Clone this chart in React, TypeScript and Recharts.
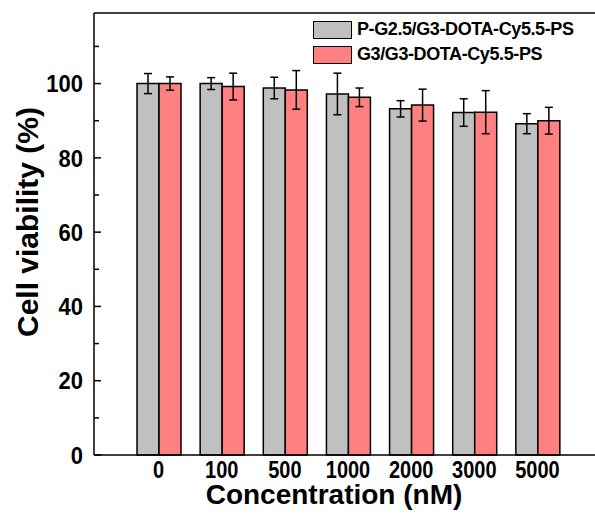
import React from 'react'
import { Bar, BarChart, ErrorBar, Label, Legend, ReferenceLine, XAxis, YAxis } from 'recharts'

const concentrations = ['0', '100', '500', '1000', '2000', '3000', '5000']
const pgValues = [100, 100, 98.8, 97.2, 93.2, 92.2, 89.2]
const pgErrors = [2.7, 1.6, 2.9, 5.6, 2.2, 3.7, 2.7]
const g3Values = [100, 99.2, 98.3, 96.3, 94.2, 92.3, 90]
const g3Errors = [1.8, 3.6, 5.2, 2.5, 4.3, 5.8, 3.6]
const yTicks = [0, 10, 20, 30, 40, 50, 60, 70, 80, 90, 100, 110]

const seriesNames = ['P-G2.5/G3-DOTA-Cy5.5-PS', 'G3/G3-DOTA-Cy5.5-PS']
const seriesColors = ['#c0c0c0', '#ff8080']

const data = concentrations.map((c, i) => ({
  conc: c,
  pg: pgValues[i],
  pgErr: pgErrors[i],
  g3: g3Values[i],
  g3Err: g3Errors[i],
}))

const font = '"Liberation Sans", Arial, sans-serif'

function YTick(props: any) {
  const { x, y, payload } = props
  const major = payload.value % 20 === 0
  return (
    <g>
      <line x1={x} x2={x + (major ? 7 : 5)} y1={y} y2={y} stroke="#000" strokeWidth={1.5} />
      {major && (
        <text
          transform={`translate(${x - 11},${y}) scale(1,1.1)`}
          dy="0.36em"
          textAnchor="end"
          fontFamily={font}
          fontWeight="bold"
          fontSize={22}
          fill="#000"
        >
          {payload.value}
        </text>
      )}
    </g>
  )
}

function XTick(props: any) {
  const { x, y, payload } = props
  return (
    <text
      transform={`translate(${x},${y + 23}) scale(1,1.18)`}
      textAnchor="middle"
      fontFamily={font}
      fontWeight="bold"
      fontSize={20}
      fill="#000"
    >
      {payload.value}
    </text>
  )
}

function LegendBox() {
  return (
    <div style={{ fontFamily: font, fontWeight: 'bold', fontSize: 18, letterSpacing: -0.4, color: '#000' }}>
      {seriesNames.map((name, i) => (
        <div key={name} style={{ display: 'flex', alignItems: 'center', height: 25 }}>
          <span
            style={{
              display: 'inline-block',
              width: 37,
              height: 16,
              background: seriesColors[i],
              border: '1.5px solid #000',
              marginRight: 5,
            }}
          />
          <span>{name}</span>
        </div>
      ))}
    </div>
  )
}

export default function App() {
  return (
    <div style={{ position: 'absolute', left: 0, top: 0, width: 595, height: 517, overflow: 'hidden', background: '#fff' }}>
      <BarChart width={605} height={517} data={data} margin={{ top: 13, right: 3, bottom: 0, left: 0 }} barSize={22} barGap={0}>
        <ReferenceLine y={119} stroke="#000" strokeWidth={1.5} />
        <XAxis
          dataKey="conc"
          height={62}
          padding={{ left: 33, right: 33 }}
          tickSize={0}
          tickMargin={0}
          tickLine={false}
          axisLine={{ stroke: '#000', strokeWidth: 1.5 }}
          tick={<XTick />}
          interval={0}
        >
          <Label
            content={() => (
              <text x={334} y={504} textAnchor="middle" fontFamily={font} fontWeight="bold" fontSize={28} fill="#000">
                Concentration (nM)
              </text>
            )}
          />
        </XAxis>
        <YAxis
          width={94}
          domain={[0, 119]}
          ticks={yTicks}
          interval={0}
          tickSize={0}
          tickMargin={0}
          tickLine={false}
          axisLine={{ stroke: '#000', strokeWidth: 1.5 }}
          tick={<YTick />}
        >
          <Label
            content={() => (
              <text
                transform="translate(38,222) rotate(-90)"
                textAnchor="middle"
                fontFamily={font}
                fontWeight="bold"
                fontSize={30}
                fill="#000"
              >
                Cell viability (%)
              </text>
            )}
          />
        </YAxis>
        <Legend
          layout="vertical"
          verticalAlign="middle"
          align="center"
          content={<LegendBox />}
          wrapperStyle={{ top: 17, left: 313, width: 282 }}
        />
        <Bar dataKey="pg" name={seriesNames[0]} fill={seriesColors[0]} stroke="#000" strokeWidth={1.5} isAnimationActive={false}>
          <ErrorBar dataKey="pgErr" width={4} stroke="#000" strokeWidth={1.5} />
        </Bar>
        <Bar dataKey="g3" name={seriesNames[1]} fill={seriesColors[1]} stroke="#000" strokeWidth={1.5} isAnimationActive={false}>
          <ErrorBar dataKey="g3Err" width={4} stroke="#000" strokeWidth={1.5} />
        </Bar>
      </BarChart>
    </div>
  )
}
